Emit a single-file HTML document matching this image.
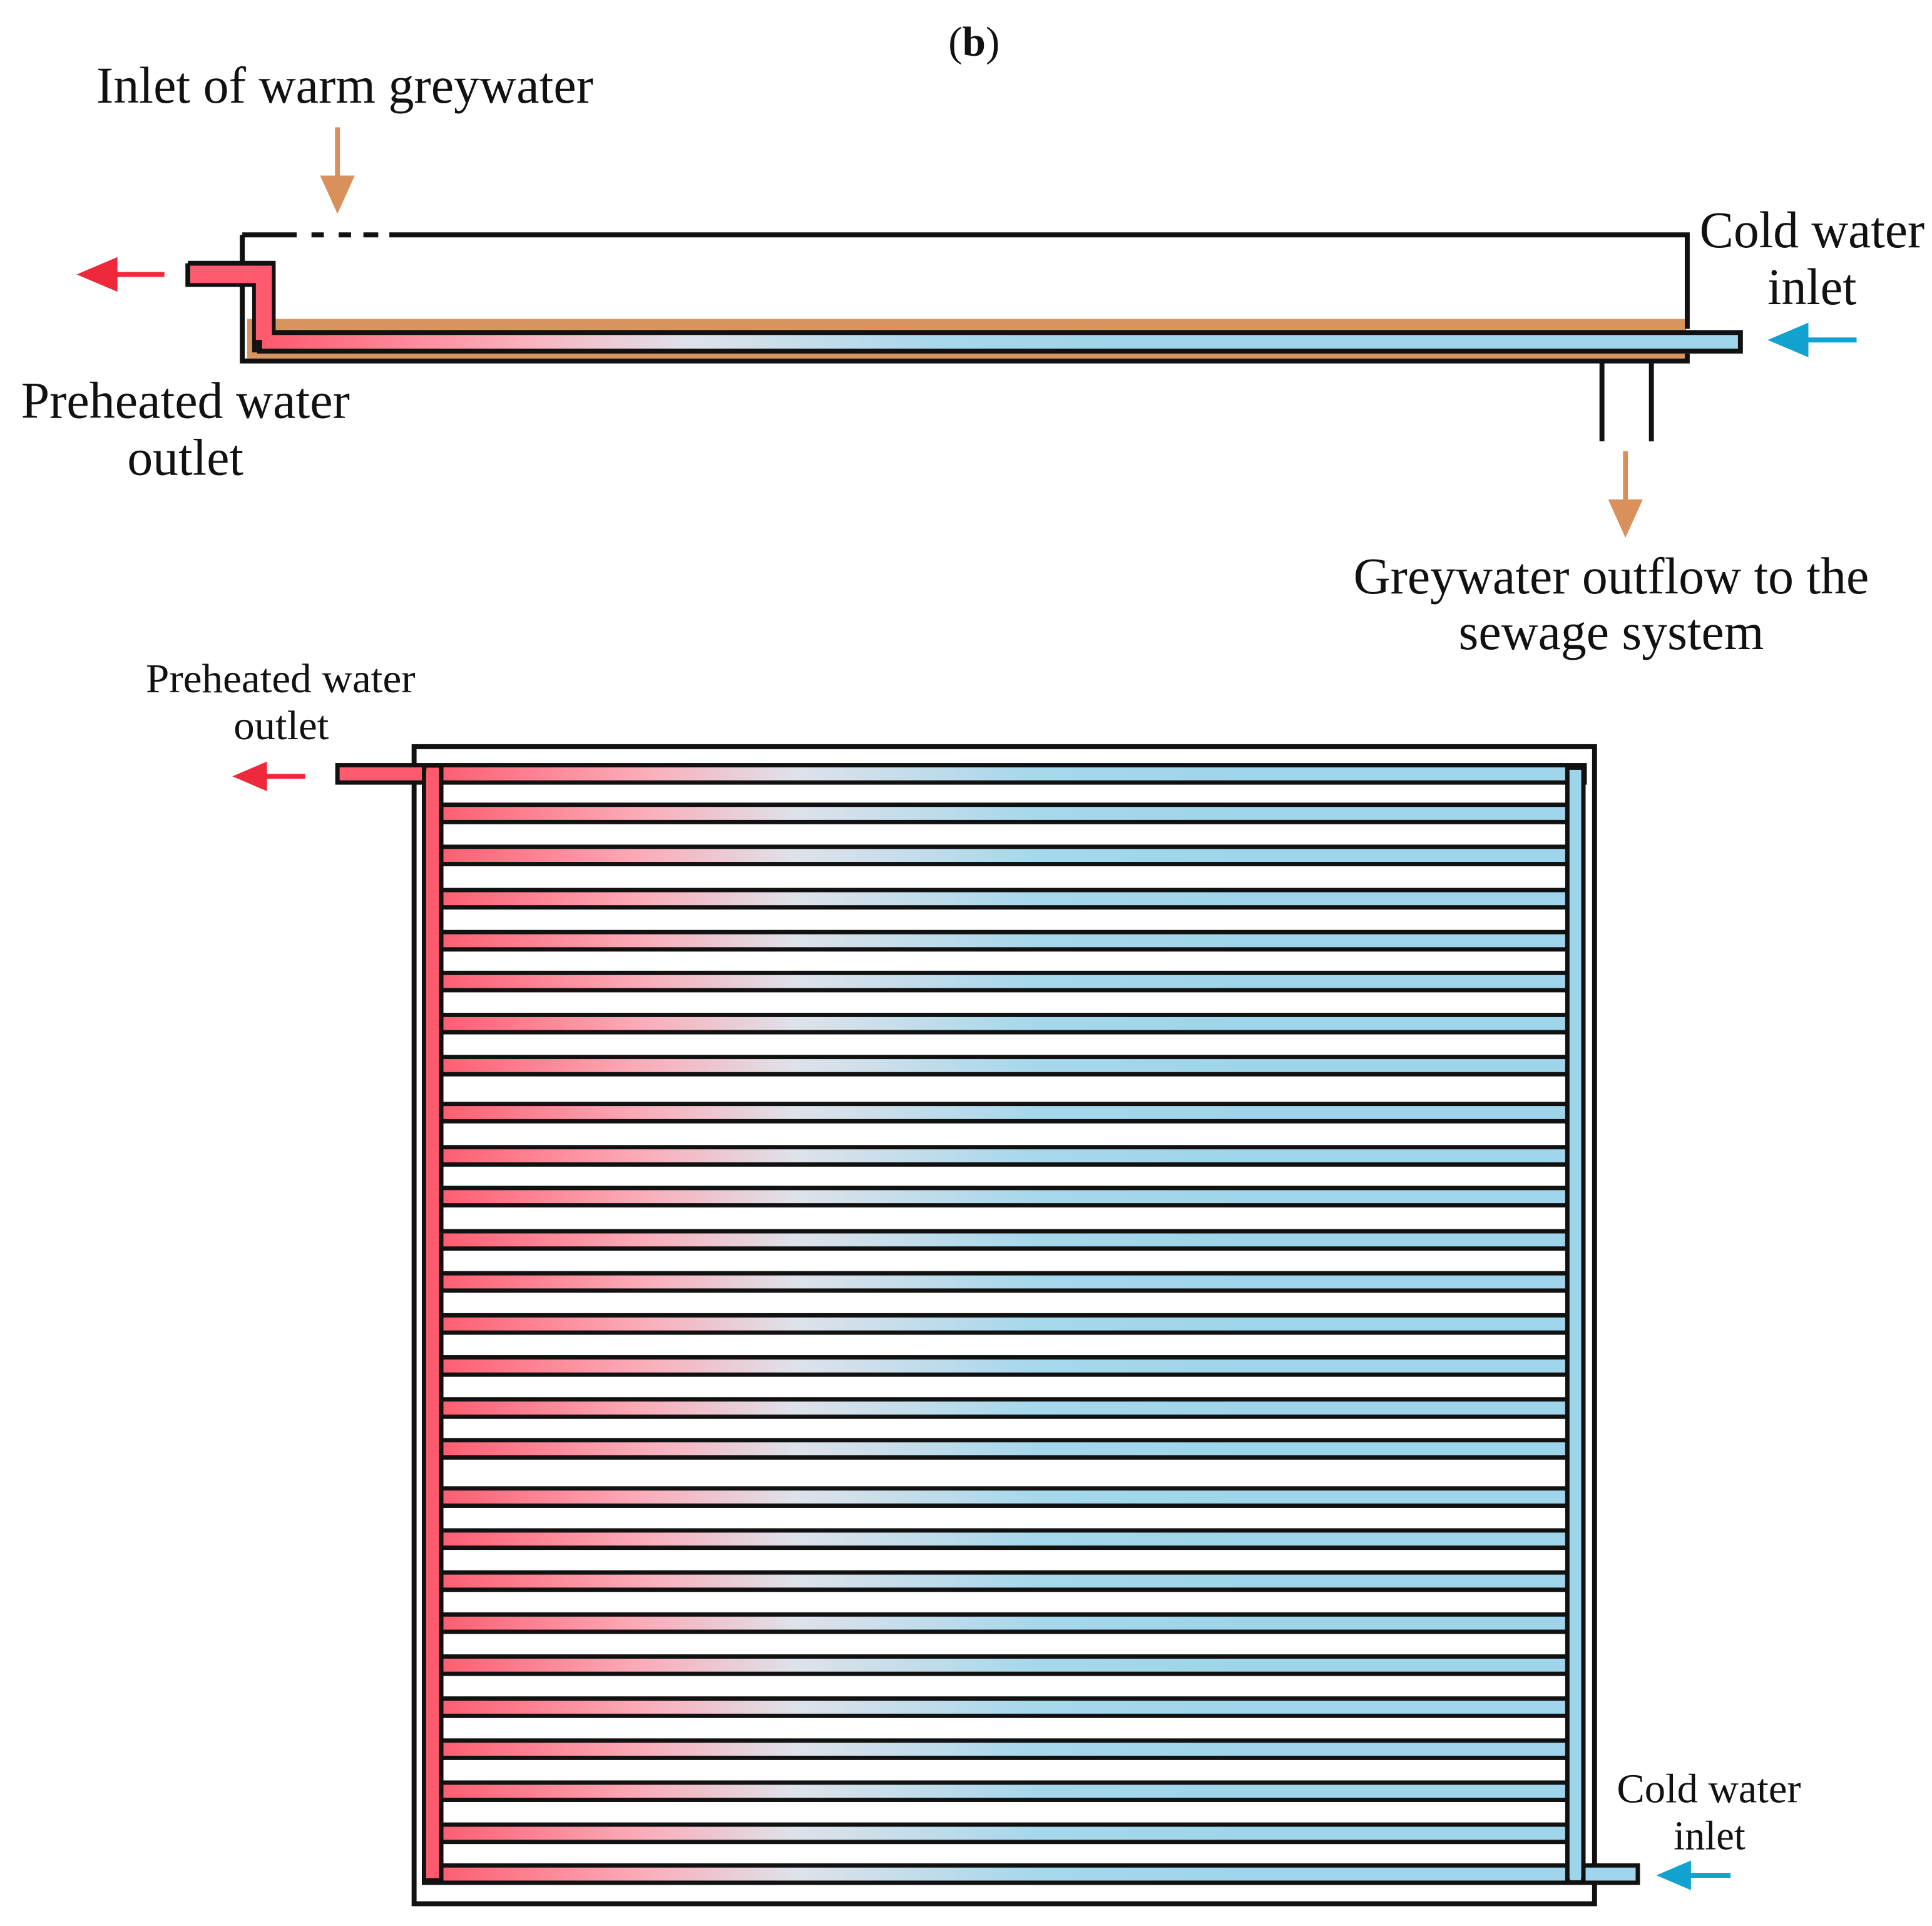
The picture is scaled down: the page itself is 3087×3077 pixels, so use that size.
<!DOCTYPE html>
<html><head><meta charset="utf-8"><style>html,body{margin:0;padding:0;background:#fff}svg{display:block}text{font-family:"Liberation Serif",serif;fill:#111}</style></head>
<body>
<svg width="3087" height="3077" viewBox="0 0 1563 1558" preserveAspectRatio="none" xmlns="http://www.w3.org/2000/svg">
<defs>
<linearGradient id="g1" gradientUnits="userSpaceOnUse" x1="350" y1="0" x2="1000" y2="0">
<stop offset="0" stop-color="#ff5a6e"/><stop offset="0.25" stop-color="#fca9b6"/><stop offset="0.45" stop-color="#dfe2ea"/><stop offset="0.75" stop-color="#a6d8ec"/><stop offset="1" stop-color="#9fd5ea"/></linearGradient>
<linearGradient id="g2" gradientUnits="userSpaceOnUse" x1="215" y1="0" x2="900" y2="0">
<stop offset="0" stop-color="#ff5a6e"/><stop offset="0.3" stop-color="#fcb0bd"/><stop offset="0.5" stop-color="#dfe2ea"/><stop offset="0.8" stop-color="#a6d8ec"/><stop offset="1" stop-color="#9fd5ea"/></linearGradient>
</defs>
<text x="788" y="45" font-size="34" text-anchor="middle">(<tspan font-weight="bold">b</tspan>)</text>
<text x="78" y="83" font-size="42" textLength="402" lengthAdjust="spacingAndGlyphs">Inlet of warm greywater</text>
<g><line x1="273" y1="103" x2="273" y2="150" stroke="#d9905a" stroke-width="4"/><polygon points="259,142 287,142 273,173" fill="#d9905a"/></g>
<g>
<rect x="200" y="258" width="1164" height="32" fill="#d9955f"/>
<path d="M196,190 H240 M315,190 H1365 V266" fill="none" stroke="#111" stroke-width="4"/>
<path d="M252,190 H262 M274,190 H284 M294,190 H306" stroke="#111" stroke-width="4"/>
<path d="M196,190 V213 M196,230 V292 H1365 V286" fill="none" stroke="#111" stroke-width="4"/>
<rect x="210" y="269" width="1198" height="15" fill="url(#g2)" stroke="#111" stroke-width="4"/>
<path d="M152,213 H221 V270 M152,213 V230 H206 V285" fill="none" stroke="#111" stroke-width="4"/>
<rect x="154" y="215" width="60" height="14" fill="#ff5a6e"/><rect x="207" y="215" width="13" height="60" fill="#ff5a6e"/>
<path d="M1296,292 V357 M1336,292 V357" stroke="#111" stroke-width="4"/>
</g>
<g><line x1="85" y1="222" x2="133" y2="222" stroke="#f0283c" stroke-width="4"/><polygon points="62,222 95,208 95,236" fill="#f0283c"/></g>
<g><line x1="1450" y1="275" x2="1502" y2="275" stroke="#12a2cf" stroke-width="4"/><polygon points="1430,275 1463,261 1463,289" fill="#12a2cf"/></g>
<g><line x1="1315" y1="365" x2="1315" y2="410" stroke="#d9905a" stroke-width="4"/><polygon points="1301,404 1329,404 1315,435" fill="#d9905a"/></g>
<text font-size="42"><tspan x="1375" y="200" textLength="182" lengthAdjust="spacingAndGlyphs">Cold water</tspan><tspan x="1430" y="246" textLength="72" lengthAdjust="spacingAndGlyphs">inlet</tspan></text>
<text font-size="42"><tspan x="17" y="338" textLength="266" lengthAdjust="spacingAndGlyphs">Preheated water</tspan><tspan x="103" y="384" textLength="94" lengthAdjust="spacingAndGlyphs">outlet</tspan></text>
<text font-size="42"><tspan x="1095" y="480" textLength="417" lengthAdjust="spacingAndGlyphs">Greywater outflow to the</tspan><tspan x="1180" y="525" textLength="247" lengthAdjust="spacingAndGlyphs">sewage system</tspan></text>
<text font-size="33"><tspan x="118" y="560" textLength="218" lengthAdjust="spacingAndGlyphs">Preheated water</tspan><tspan x="189" y="598" textLength="77" lengthAdjust="spacingAndGlyphs">outlet</tspan></text>
<text font-size="33"><tspan x="1308" y="1458" textLength="149" lengthAdjust="spacingAndGlyphs">Cold water</tspan><tspan x="1354" y="1496" textLength="58" lengthAdjust="spacingAndGlyphs">inlet</tspan></text>
<g><line x1="208" y1="628" x2="247" y2="628" stroke="#f0283c" stroke-width="4"/><polygon points="188,628 216,616 216,640" fill="#f0283c"/></g>
<g><line x1="1360" y1="1517" x2="1400" y2="1517" stroke="#12a2cf" stroke-width="4"/><polygon points="1340,1517 1368,1505 1368,1529" fill="#12a2cf"/></g>
<g id="plan">
<rect x="335" y="604" width="955" height="936" fill="none" stroke="#111" stroke-width="4"/>
</g>
</svg>
<script>
const rowsY=[658,692,727,761,794,828,862,900,935,968,1003,1037,1071,1105,1139,1172,1211,1245,1279,1313,1347,1381,1415,1449,1483];
const NS='http://www.w3.org/2000/svg';
const plan=document.getElementById('plan');
function mk(tag,attrs){const e=document.createElementNS(NS,tag);for(const k in attrs)e.setAttribute(k,attrs[k]);plan.appendChild(e);return e;}
rowsY.forEach(y=>{
  const r=mk('rect',{x:356,y:y-7,width:912,height:14,fill:'url(#g1)',stroke:'#111','stroke-width':3.5});
  
  
});
let e;
e=mk('rect',{x:273,y:619,width:1009,height:14,fill:'url(#g1)',stroke:'#111','stroke-width':3.5});


e=mk('rect',{x:343,y:1509,width:982,height:14,fill:'url(#g1)',stroke:'#111','stroke-width':3.5});


e=mk('rect',{x:343,y:621,width:14,height:900,fill:'#ff5a6e',stroke:'#111','stroke-width':3.5});


e=mk('rect',{x:1268,y:621,width:13,height:900,fill:'#9fd5ea',stroke:'#111','stroke-width':3.5});


e=mk('rect',{x:345,y:621,width:10,height:10,fill:'#ff5a6e'});


e=mk('rect',{x:1270,y:1511,width:9,height:10,fill:'#9fd5ea'});


</script>
</body></html>
